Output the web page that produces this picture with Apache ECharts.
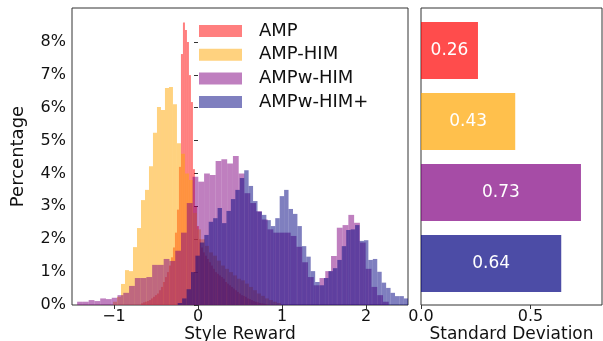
<!DOCTYPE html>
<html>
<head>
<meta charset="utf-8">
<script src="https://cdn.jsdelivr.net/npm/echarts@6/dist/echarts.min.js"></script>
<style>
  html, body { margin: 0; padding: 0; background: #fff; }
  #chart { width: 603px; height: 341px; }
</style>
</head>
<body>
<div id="chart"></div>
<script>
var seriesNames = ['AMP', 'AMP-HIM', 'AMPw-HIM', 'AMPw-HIM+'];

// histogram bins: first edge, bin width, percentage of samples per bin
var ampStart = -0.679, ampWidth = 0.0238;
var ampPct = [0.05, 0.08, 0.1, 0.12, 0.15, 0.2, 0.25, 0.3, 0.35, 0.45,
  0.55, 0.7, 0.85, 1.0, 1.2, 1.45, 1.75, 2.2, 2.9, 4.2,
  7.63, 8.59, 8.36, 8.0, 6.99, 6.17, 4.13, 3.0, 2.4, 2.0,
  1.75, 1.6, 1.5, 1.4, 1.3, 1.2, 1.1, 1.0, 0.95, 0.9,
  0.85, 0.8, 0.7, 0.65, 0.6, 0.55, 0.5, 0.45, 0.4, 0.35,
  0.3, 0.28, 0.25, 0.2, 0.18, 0.15, 0.12, 0.1, 0.08, 0.06,
  0.05, 0.04, 0.03];

var himStart = -1.012, himWidth = 0.0476;
var himPct = [0.1, 0.25, 0.64, 1.06, 1.03, 1.76, 2.34, 3.19, 3.5, 4.22,
  5.24, 6.02, 5.93, 6.6, 6.63, 6.1, 4.92, 4.6, 4.0, 3.8,
  2.8, 2.3, 2.0, 1.8, 1.6, 1.5, 1.35, 1.2, 1.1, 1.0,
  0.9, 0.8, 0.75, 0.65, 0.55, 0.45, 0.35, 0.28, 0.2, 0.15,
  0.1, 0.06];

var wStart = -1.439, wWidth = 0.0687;
var wPct = [0.1, 0.1, 0.15, 0.12, 0.2, 0.18, 0.22, 0.3, 0.37, 0.58,
  0.82, 0.82, 0.85, 1.22, 1.22, 1.4, 1.34, 1.65, 2.2, 3.1,
  3.9, 3.75, 4.0, 3.95, 4.38, 4.43, 4.3, 4.53, 4.0, 3.4,
  3.1, 2.85, 2.6, 2.3, 2.2, 2.2, 2.2, 2.1, 1.77, 1.3,
  0.85, 0.6, 0.82, 1.03, 1.49, 2.35, 2.43, 2.74, 2.5, 1.9,
  1.1, 0.55, 0.3, 0.1];

var wpStart = -0.242, wpWidth = 0.0528;
var wpPct = [0.06, 0.2, 0.48, 1.0, 1.5, 1.9, 2.13, 2.53, 2.64, 2.95,
  2.49, 2.86, 3.22, 3.5, 3.86, 4.1, 3.62, 3.16, 2.84, 2.74,
  2.58, 2.4, 2.64, 3.31, 3.5, 2.92, 2.77, 2.4, 1.79, 1.47,
  1.03, 0.7, 0.6, 0.82, 1.03, 1.12, 1.37, 1.79, 2.28, 2.3,
  2.43, 1.95, 1.97, 1.37, 1.4, 1.01, 0.68, 0.52, 0.37, 0.27,
  0.27, 0.2];

// right panel
var stdValues = [0.26, 0.43, 0.73, 0.64];

var pctTicks = [0, 1, 2, 3, 4, 5, 6, 7, 8];
var rewardTicks = [-1, 0, 1, 2];
var stdTicks = [0, 0.5];

var histColors = ['rgba(255,0,0,0.5)', 'rgba(255,165,0,0.5)', 'rgba(128,0,128,0.5)', 'rgba(0,0,128,0.5)'];
var barColors = ['rgba(255,0,0,0.7)', 'rgba(255,165,0,0.7)', 'rgba(128,0,128,0.7)', 'rgba(0,0,128,0.7)'];

var font = 'DejaVu Sans';

function toBins(start, width, pct) {
  var out = [];
  for (var i = 0; i < pct.length; i++) {
    out.push([start + i * width, start + (i + 1) * width, pct[i]]);
  }
  return out;
}

function renderBin(params, api) {
  var p0 = api.coord([api.value(0), api.value(2)]);
  var p1 = api.coord([api.value(1), 0]);
  return {
    type: 'rect',
    shape: { x: p0[0], y: p0[1], width: p1[0] - p0[0], height: p1[1] - p0[1] },
    style: { fill: api.visual('color') }
  };
}

var binSets = [
  toBins(ampStart, ampWidth, ampPct),
  toBins(himStart, himWidth, himPct),
  toBins(wStart, wWidth, wPct),
  toBins(wpStart, wpWidth, wpPct)
];

var series = [];
for (var s = 0; s < 4; s++) {
  series.push({
    name: seriesNames[s],
    type: 'custom',
    xAxisIndex: 0,
    yAxisIndex: 0,
    renderItem: renderBin,
    encode: { x: [0, 1], y: 2 },
    itemStyle: { color: histColors[s] },
    data: binSets[s],
    clip: true,
    silent: true
  });
}

series.push({
  name: 'Standard Deviation',
  type: 'bar',
  xAxisIndex: 2,
  yAxisIndex: 2,
  barWidth: 57,
  silent: true,
  data: stdValues.map(function (v, i) {
    return { value: v, itemStyle: { color: barColors[i] } };
  }),
  label: {
    show: true,
    position: 'inside',
    color: '#fff',
    fontFamily: font,
    fontSize: 17,
    formatter: function (p) { return p.value.toFixed(2); }
  }
});

var myChart = echarts.init(document.getElementById('chart'));
myChart.setOption({
  animation: false,
  textStyle: { fontFamily: font },
  grid: [
    { left: 72, right: 195, top: 8, bottom: 36, show: true, borderColor: '#333', borderWidth: 1, outerBoundsMode: 'none' },
    { left: 421, right: 1, top: 8, bottom: 36, show: true, borderColor: '#333', borderWidth: 1, outerBoundsMode: 'none' },
    { left: 421, right: 1, top: 15, bottom: 42, outerBoundsMode: 'none' }
  ],
  legend: {
    orient: 'vertical',
    left: 199,
    top: 22,
    padding: 0,
    icon: 'rect',
    itemWidth: 43,
    itemHeight: 12,
    itemGap: 5.7,
    selectedMode: false,
    data: seriesNames,
    textStyle: { fontFamily: font, fontSize: 18, color: '#111', padding: [0, 0, 0, 12] }
  },
  xAxis: [
    {
      gridIndex: 0, type: 'value', min: -1.5, max: 2.5,
      name: 'Style Reward', nameLocation: 'middle', nameGap: 21, nameMoveOverlap: false,
      nameTextStyle: { color: '#111', fontFamily: font, fontSize: 17 },
      axisLine: { show: false },
      splitLine: { show: false },
      axisTick: { show: true, length: 4, lineStyle: { color: '#333' }, customValues: rewardTicks },
      axisLabel: {
        color: '#111', fontFamily: font, fontSize: 16, margin: 4, customValues: rewardTicks,
        formatter: function (v) { return v < 0 ? '\u2212' + (-v) : String(v); }
      }
    },
    {
      gridIndex: 1, type: 'value', min: 0, max: 0.826,
      name: 'Standard Deviation', nameLocation: 'middle', nameGap: 21, nameMoveOverlap: false,
      nameTextStyle: { color: '#111', fontFamily: font, fontSize: 17 },
      axisLine: { show: false },
      splitLine: { show: false },
      axisTick: { show: true, length: 4, lineStyle: { color: '#333' }, customValues: stdTicks },
      axisLabel: {
        color: '#111', fontFamily: font, fontSize: 16, margin: 4, customValues: stdTicks,
        formatter: function (v) { return v.toFixed(1); }
      }
    },
    {
      gridIndex: 2, type: 'value', min: 0, max: 0.826, show: false
    }
  ],
  yAxis: [
    {
      gridIndex: 0, type: 'value', min: 0, max: 9.03,
      name: 'Percentage', nameLocation: 'middle', nameGap: 45, nameMoveOverlap: false,
      nameTextStyle: { color: '#111', fontFamily: font, fontSize: 18 },
      axisLine: { show: false },
      splitLine: { show: false },
      axisTick: { show: true, length: 4, lineStyle: { color: '#333' }, customValues: pctTicks },
      axisLabel: {
        color: '#111', fontFamily: font, fontSize: 16, margin: 6, customValues: pctTicks,
        formatter: '{value}%'
      }
    },
    {
      gridIndex: 1, type: 'value', min: 0, max: 1, show: false
    },
    {
      gridIndex: 2, type: 'category', inverse: true, data: seriesNames, show: false
    }
  ],
  series: series
});
</script>
</body>
</html>
